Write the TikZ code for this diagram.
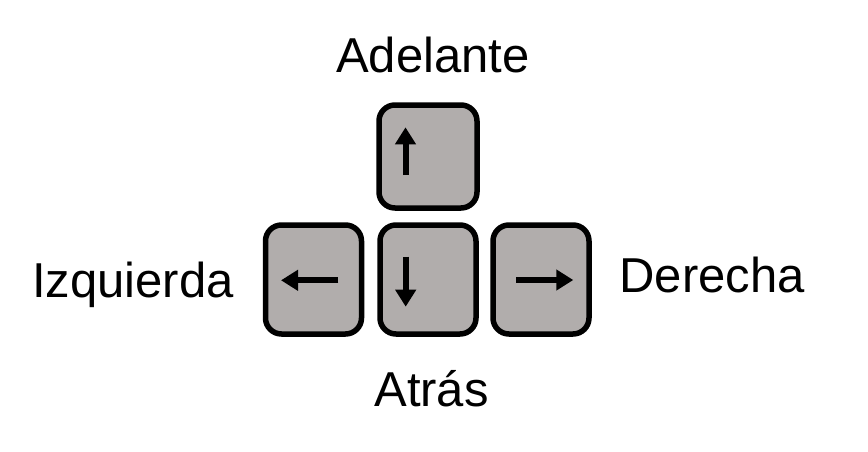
\documentclass[tikz,border=0pt]{standalone}
\usepackage{fontspec}
\setmainfont{Liberation Sans}
\usepackage{xcolor}
\usepackage{tikz}
\usetikzlibrary{arrows.meta}
\definecolor{keygray}{RGB}{177,173,172}

\begin{document}
\begin{tikzpicture}[x=1pt,y=-1pt,
                    keycap/.style={draw,line width=5.5pt,rounded corners=16pt,fill=keygray,minimum width=96pt,minimum height=109pt,inner sep=0pt},
                    keytext/.style={anchor=base,inner sep=0pt,font=\fontsize{49}{58}\selectfont},
                    glyph/.style={line width=6pt,-{Triangle[length=17pt,width=20pt]}}]
\useasboundingbox (0,0) rectangle (868,451);
\node[keycap,minimum width=98pt,minimum height=103pt] (up) at (428,156.5) {};
\node[keycap] (left)  at (313.5,279.5) {};
\node[keycap] (down)  at (428,279.5) {};
\node[keycap] (right) at (541,279.5) {};
\node[keytext] (fwd)  at (433,72)    {Adelante};
\node[keytext] (lft)  at (133,297)   {Izquierda};
\node[keytext] (rgt)  at (712,292)   {Derecha};
\node[keytext] (back) at (431.5,406) {Atrás};
\draw[glyph] ([shift={(-22.5,18.5)}]up.center) -- ([shift={(-22.5,-29.2)}]up.center);
\draw[glyph] ([shift={(-22.3,-22.8)}]down.center) -- ([shift={(-22.3,27.2)}]down.center);
\draw[glyph] ([shift={(24.8,0.8)}]left.center) -- ([shift={(-32.5,0.8)}]left.center);
\draw[glyph] ([shift={(-25,0.5)}]right.center) -- ([shift={(32.3,0.5)}]right.center);
\end{tikzpicture}
\end{document}
